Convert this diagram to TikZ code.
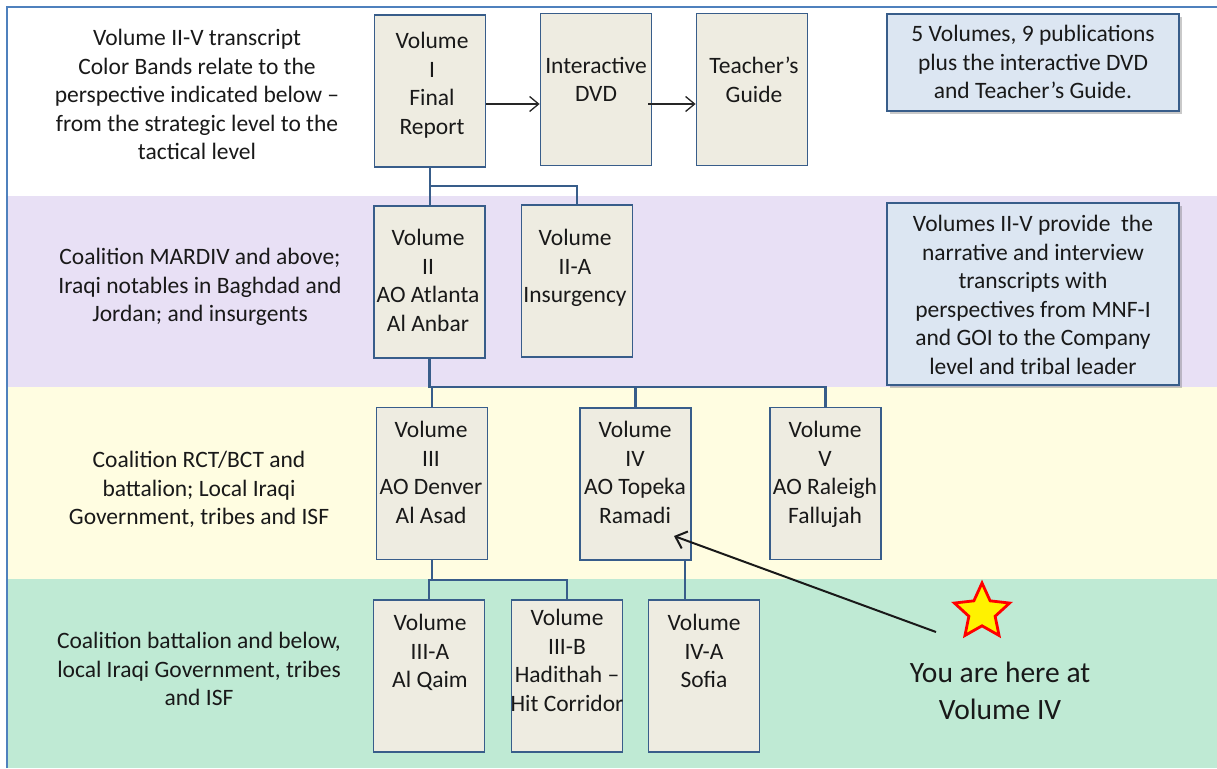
\documentclass[tikz,border=0pt]{standalone}
\usepackage{fontspec}
\setmainfont{Carlito}
\usetikzlibrary{arrows.meta,shapes.geometric,shadows}
\definecolor{bandP}{RGB}{232,224,245}
\definecolor{bandY}{RGB}{255,253,225}
\definecolor{bandG}{RGB}{191,234,212}
\definecolor{boxfill}{RGB}{238,236,225}
\definecolor{boxline}{RGB}{56,93,138}
\definecolor{notefill}{RGB}{220,230,242}
\definecolor{frameblue}{RGB}{79,129,189}
\definecolor{txt}{RGB}{25,25,25}
\begin{document}
\begin{tikzpicture}[x=1pt,y=-1pt,
  volbox/.style={draw=boxline,line width=1.8pt,fill=boxfill,inner sep=0pt,minimum width=111pt,minimum height=152pt},
  notebox/.style={draw=boxline,line width=2.6pt,fill=notefill,inner sep=0pt,minimum width=292pt,
    drop shadow={shadow xshift=3pt,shadow yshift=-3pt,opacity=0.35,fill=black!60}},
  lbl/.style={anchor=north,align=center,inner sep=0pt,text=txt,font=\fontsize{23.5}{28.5}\selectfont},
  big/.style={anchor=north,align=center,inner sep=0pt,text=txt,font=\fontsize{29.5}{37}\selectfont},
  conn/.style={draw=boxline,line width=2.2pt},
  arr/.style={draw=black!85,line width=1.3pt,-{Straight Barb[length=9pt,width=15pt,line width=1.3pt]}},
  arrb/.style={draw=black!90,line width=2pt,-{Straight Barb[length=10pt,width=18pt,line width=2pt]}}
]
\useasboundingbox (0,0) rectangle (1217,768);
% bands
\fill[white] (0,0) rectangle (1217,768);
\fill[bandP] (7,196) rectangle (1217,387);
\fill[bandY] (7,387) rectangle (1217,579);
\fill[bandG] (7,579) rectangle (1217,768);
\draw[frameblue,line width=2pt] (7,768) -- (7,7) -- (1217,7);

% boxes
\node[volbox] (v1) at (430,91) {};
\node[volbox] (dvd) at (596,89.5) {};
\node[volbox] (tg) at (752,89.5) {};
\node[notebox,minimum height=97pt] (n1) at (1033,62.5) {};
\node[notebox,minimum height=182pt] (n2) at (1033,294) {};
\node[volbox] (v2) at (429.5,282) {};
\node[volbox] (v2a) at (577,281) {};
\node[volbox] (v3) at (432,483.5) {};
\node[volbox] (v4) at (635.5,484) {};
\node[volbox] (v5) at (825.5,483.5) {};
\node[volbox] (v3a) at (429,676) {};
\node[volbox] (v3b) at (567,676) {};
\node[volbox] (v4a) at (704,676) {};

% connectors
\coordinate (j1) at (0,186);
\coordinate (j2) at (0,387);
\coordinate (j3) at (0,580);
\coordinate (k4) at (685,0);
\coordinate (ya) at (0,104);
\draw[conn] (v1.south) -- (v1.south |- v2.north);
\draw[conn] (v1.south |- j1) -| (v2a.north);
\draw[conn] (v2.south) -- (v2.south |- j2) -| (v5.north);
\draw[conn] (v2.south |- j2) -| (v3.north);
\draw[conn] (v4.north |- j2) -- (v4.north);
\draw[conn] (v3.south) -- (v3.south |- j3) -| (v3b.north);
\draw[conn] (v3.south |- j3) -| (v3a.north);
\draw[conn] (k4 |- v4.south) -- (k4 |- v4a.north);
\draw[arr] (v1.east |- ya) -- (dvd.west |- ya);
\draw[arr] ([xshift=-4pt]dvd.east |- ya) -- (tg.west |- ya);

% texts
\node[lbl] (t0) at (197,29) {Volume II-V transcript\\Color Bands relate to the\\perspective indicated below –\\from the strategic level to the\\tactical level};
\node[lbl] (tb2) at (200,248) {Coalition MARDIV and above;\\Iraqi notables in Baghdad and\\Jordan; and insurgents};
\node[lbl] (tb3) at (199,451) {Coalition RCT/BCT and\\battalion; Local Iraqi\\Government, tribes and ISF};
\node[lbl] (tb4) at (199,632) {Coalition battalion and below,\\local Iraqi Government, tribes\\and ISF};
\node[lbl] (tv1) at (432,32) {Volume\\I\\Final\\Report};
\node[lbl] (tdvd) at (596,57) {Interactive\\DVD};
\node[lbl] (ttg) at (754,57) {Teacher’s\\Guide};
\node[lbl] (tn1) at (1033,25) {5 Volumes, 9 publications\\plus the interactive DVD\\and Teacher’s Guide.};
\node[lbl] (tn2) at (1033,215) {Volumes II-V provide\ \ the\\narrative and interview\\transcripts with\\perspectives from MNF-I\\and GOI to the Company\\level and tribal leader};
\node[lbl] (tv2) at (428,229) {Volume\\II\\AO Atlanta\\Al Anbar};
\node[lbl] (tv2a) at (575,229) {Volume\\II-A\\Insurgency};
\node[lbl] (tv3) at (431,421) {Volume\\III\\AO Denver\\Al Asad};
\node[lbl] (tv4) at (635,421) {Volume\\IV\\AO Topeka\\Ramadi};
\node[lbl] (tv5) at (825,421) {Volume\\V\\AO Raleigh\\Fallujah};
\node[lbl] (tv3a) at (430,614) {Volume\\III-A\\Al Qaim};
\node[lbl] (tv3b) at (567,609) {Volume\\III-B\\Hadithah –\\Hit Corridor};
\node[lbl] (tv4a) at (704,614) {Volume\\IV-A\\Sofia};

% you are here
\node[star,star points=5,star point ratio=2.1,minimum size=58pt,inner sep=0pt,fill=yellow,draw=red,line width=2.8pt] (st) at (982,612) {};
\node[big] (here) at (1000,662) {You are here at\\Volume IV};
\coordinate (tail) at (936,632);
\coordinate (tip) at (674,536);
\draw[arrb] (tail) -- (tip);
\end{tikzpicture}
\end{document}
